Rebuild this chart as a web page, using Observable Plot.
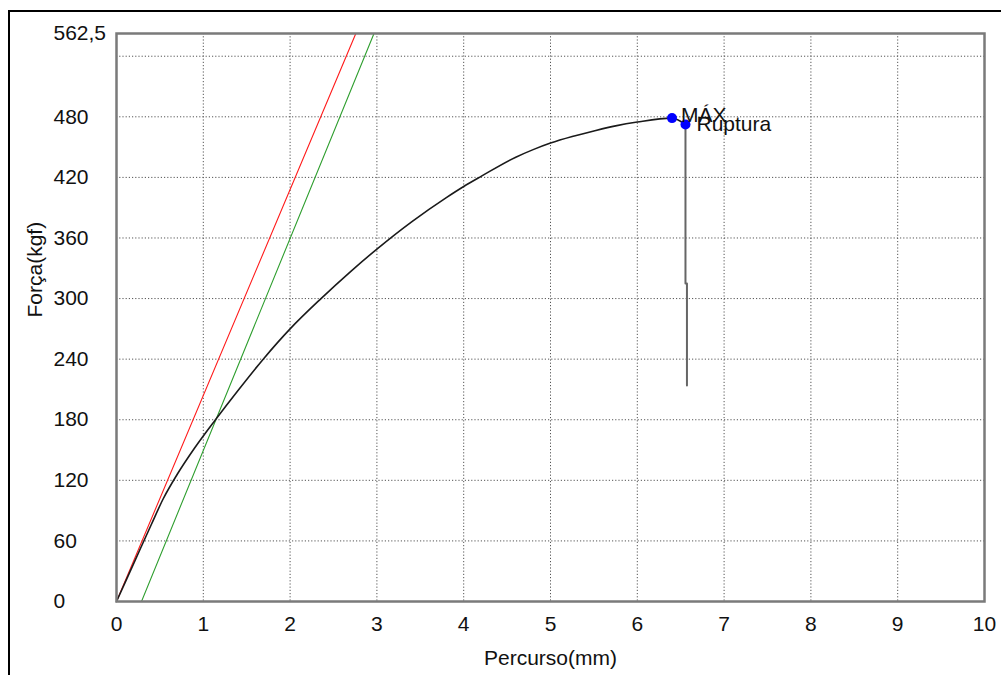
<!DOCTYPE html>
<html>
<head>
<meta charset="utf-8">
<script src="https://cdn.jsdelivr.net/npm/d3@7"></script>
<script src="https://cdn.jsdelivr.net/npm/@observablehq/plot@0.6"></script>
<style>
  html, body { margin: 0; padding: 0; background: #fff; overflow: hidden; }
  #wrap { position: relative; width: 1001px; height: 675px; }
  #border { position: absolute; left: 8px; top: 10px; width: 1100px; height: 800px;
            border-top: 2.5px solid #000; border-left: 2.5px solid #000; }
  #chart { position: absolute; left: 0; top: 0; }
</style>
</head>
<body>
<div id="wrap"><div id="border"></div><div id="chart"></div></div>
<script>
// ---- data ----
const xTicks = [0, 1, 2, 3, 4, 5, 6, 7, 8, 9, 10];
const yTicks = [0, 60, 120, 180, 240, 300, 360, 420, 480, 562.5];
const yGrid = [60, 120, 180, 240, 300, 360, 420, 480, 540];

// force-displacement curve (mm, kgf)
const curveX = [0, 0.2, 0.4, 0.54, 0.7, 0.9, 1.14, 1.4, 1.7, 2.0, 2.35, 2.7, 3.0, 3.4, 3.8, 4.0, 4.2, 4.6, 4.8, 5.0, 5.25, 5.5, 5.75, 6.0, 6.4, 6.555];
const curveY = [0, 38, 76, 102, 126, 152, 180, 209, 241, 270, 299.5, 327, 349, 376, 400, 411, 421, 440, 447.5, 454, 460.5, 466, 471, 474.8, 478.7, 472.4];

// drop after rupture
const dropX = [6.555, 6.555, 6.572, 6.572];
const dropY = [472.4, 315, 315, 214];

// elastic lines (slope kgf/mm, x-offset mm)
const redSlope = 204, redOffset = 0;
const greenSlope = 210, greenOffset = 0.288;
const yMax = 562.5;

// labelled points
const pointX = [6.40, 6.555];
const pointY = [478.7, 472.4];
const pointLabels = ["MÁX", "Ruptura"];

// ---- build ----
const curve = curveX.map((x, i) => ({x, y: curveY[i]}));
const drop = dropX.map((x, i) => ({x, y: dropY[i]}));
const lineOf = (s, o) => [{x: o, y: 0}, {x: o + yMax / s, y: yMax}];
const red = lineOf(redSlope, redOffset);
const green = lineOf(greenSlope, greenOffset);
const points = pointX.map((x, i) => ({x, y: pointY[i], label: pointLabels[i]}));

const font = "'Liberation Sans', Arial, sans-serif";
const fmtY = d => String(d).replace(".", ",");
const FS = 21;

const chart = Plot.plot({
  width: 1001,
  height: 675,
  marginLeft: 116,
  marginTop: 33,
  marginRight: 17,
  marginBottom: 74,
  style: {fontFamily: font, fontSize: FS + "px", color: "#111", background: "transparent"},
  x: {domain: [0, 10]},
  y: {domain: [0, yMax]},
  marks: [
    Plot.gridX(xTicks.slice(1, -1), {stroke: "#555", strokeOpacity: 1, strokeDasharray: "1.2,2"}),
    Plot.gridY(yGrid, {stroke: "#555", strokeOpacity: 1, strokeDasharray: "1.2,2"}),
    Plot.axisX(xTicks, {tickSize: 0, tickPadding: 15, fontSize: FS, label: null}),
    Plot.axisY(yTicks, {tickSize: 0, tickPadding: 0, textAnchor: "start", dx: -63, fontSize: FS, tickFormat: fmtY, label: null}),
    Plot.text(["Percurso(mm)"], {frameAnchor: "bottom", dy: 57, lineAnchor: "middle", fontSize: FS, fill: "#111"}),
    Plot.text(["Força(kgf)"], {frameAnchor: "left", dx: -81, rotate: -90, lineAnchor: "middle", fontSize: FS, fill: "#111"}),
    Plot.line(red, {x: "x", y: "y", stroke: "#ff1a1a", strokeWidth: 1.1, clip: true}),
    Plot.line(green, {x: "x", y: "y", stroke: "#2e9e2e", strokeWidth: 1.1, clip: true}),
    Plot.line(drop, {x: "x", y: "y", stroke: "#666", strokeWidth: 2}),
    Plot.line(curve, {x: "x", y: "y", stroke: "#1a1a1a", strokeWidth: 1.6, curve: "monotone-x"}),
    Plot.frame({stroke: "#7a7a7a", strokeWidth: 2.5}),
    Plot.dot(points, {x: "x", y: "y", r: 5, fill: "#0000ff", stroke: "none"}),
    Plot.text(points.filter(d => d.label === "MÁX"), {x: "x", y: "y", text: "label", textAnchor: "start", dx: 9, dy: -3, fontSize: FS, fill: "#111"}),
    Plot.text(points.filter(d => d.label === "Ruptura"), {x: "x", y: "y", text: "label", textAnchor: "start", dx: 11, dy: 0, fontSize: FS, fill: "#111"})
  ]
});
document.getElementById("chart").appendChild(chart);
</script>
</body>
</html>
